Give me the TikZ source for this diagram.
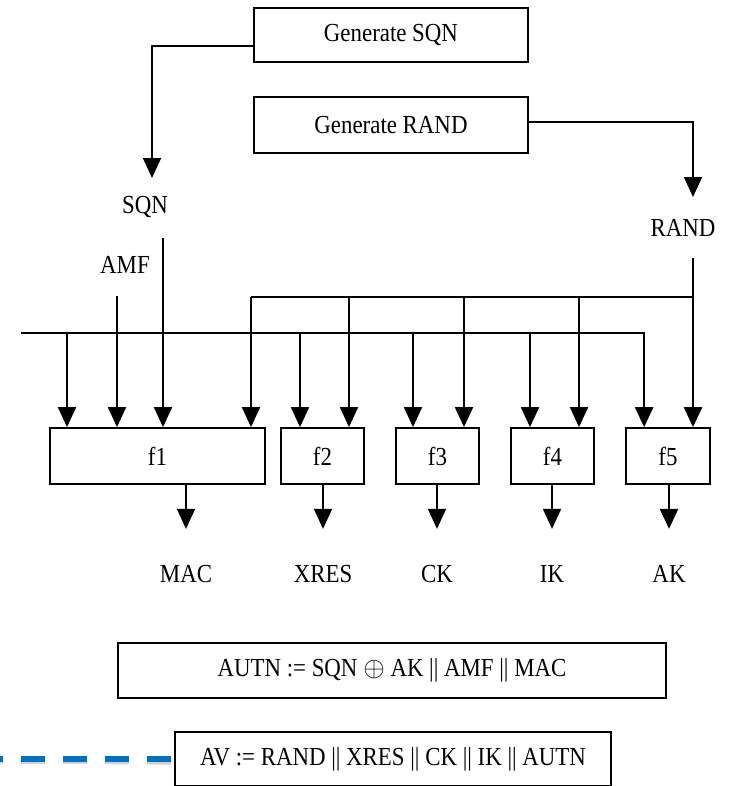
\documentclass[tikz,border=0pt]{standalone}
\usepackage{fontspec}
\setmainfont{Liberation Serif}[FakeStretch=0.88]
\usetikzlibrary{arrows.meta,calc}
\definecolor{dashblue}{RGB}{0,112,192}
\begin{document}
\begin{tikzpicture}[x=0.75pt,y=-0.75pt,
  every node/.style={font=\fontsize{19.5pt}{23pt}\selectfont},
  boxwh/.style 2 args={draw, line width=1.3pt, inner sep=0pt,
     minimum width=#1*0.75pt, minimum height=#2*0.75pt},
  lbl/.style={inner sep=0pt},
  arr/.style={line width=1.4pt, -{Triangle[width=13.5pt,length=15pt]}},
  tarr/.style={line width=2pt, -{Triangle[width=13.5pt,length=15pt]}},
  bus/.style={line width=1.4pt}]
\useasboundingbox (0,0) rectangle (729,786);

% boxes
\node[boxwh={274}{54}] (gsqn) at (391,35) {Generate SQN};
\node[boxwh={274}{56}] (grand) at (391,125) {Generate RAND};
\node[boxwh={215}{56}] (f1) at (157.5,456) {f1};
\node[boxwh={83}{56}] (f2) at (322.5,456) {f2};
\node[boxwh={83}{56}] (f3) at (437.5,456) {f3};
\node[boxwh={83}{56}] (f4) at (552.5,456) {f4};
\node[boxwh={84}{56}] (f5) at (668,456) {f5};
\node[boxwh={548}{55}] (autn) at (392,670.5) {AUTN := SQN \ensuremath{\oplus} AK || AMF || MAC};
\node[boxwh={436}{54}] (av) at (393,759) {AV := RAND || XRES || CK || IK || AUTN};

% labels
\node[lbl] (sqnl) at (145,207) {SQN};
\node[lbl] (randl) at (683,228) {RAND};
\node[lbl] (amfl) at (125,265) {AMF};
\node[lbl] (mac) at (186,574) {MAC};
\node[lbl] (xres) at (323,574) {XRES};
\node[lbl] (ck) at (437,574) {CK};
\node[lbl] (ik) at (552,574) {IK};
\node[lbl] (ak) at (669,574) {AK};

% coordinates
\coordinate (sqntip) at (152,178);
\coordinate (randtip) at (693,197);
\coordinate (randtop) at (693,258);
\coordinate (sqntop) at (163,238);
\coordinate (amftop) at (117,296);
\coordinate (ubusL) at (251,297);
\coordinate (lbusL) at (21,333);

% generators
\draw[arr] ($(gsqn.west)+(0,11)$) -| (sqntip);
\draw[arr] ($(grand.east)+(0,-3)$) -| (randtip);

% RAND bus
\draw[tarr] (randtop) -- (randtop |- f5.north);
\draw[bus] (randtop |- ubusL) -- (ubusL);
\draw[arr] (ubusL) -- (ubusL |- f1.north);
\foreach \x/\f in {349/f2,464/f3,579/f4}
  \draw[arr] (\x,297) -- (\x,297 |- \f.north);

% lower bus
\draw[tarr] (lbusL) -| ($(f5.north west)+(19,0)$);
\foreach \x/\f in {67/f1,300/f2,413/f3,530/f4}
  \draw[arr] (\x,333) -- (\x,333 |- \f.north);

% AMF and SQN inputs
\draw[arr] (amftop) -- (amftop |- f1.north);
\draw[arr] (sqntop) -- (sqntop |- f1.north);

% outputs
\draw[arr] (f1.south -| mac) -- ++(0,44);
\draw[arr] (f2.south -| xres) -- ++(0,44);
\draw[arr] (f3.south -| ck) -- ++(0,44);
\draw[arr] (f4.south -| ik) -- ++(0,44);
\draw[tarr] (f5.south -| ak) -- ++(0,44);

% dashed blue line
\draw[gray!35, line width=4pt, dash pattern=on 18pt off 13.5pt]
  ($(av.west)+(-3,3)$) -- (0,761);
\draw[dashblue, line width=4.5pt, dash pattern=on 18pt off 13.5pt]
  ($(av.west)+(-3,0)$) -- (0,759);
\end{tikzpicture}
\end{document}
